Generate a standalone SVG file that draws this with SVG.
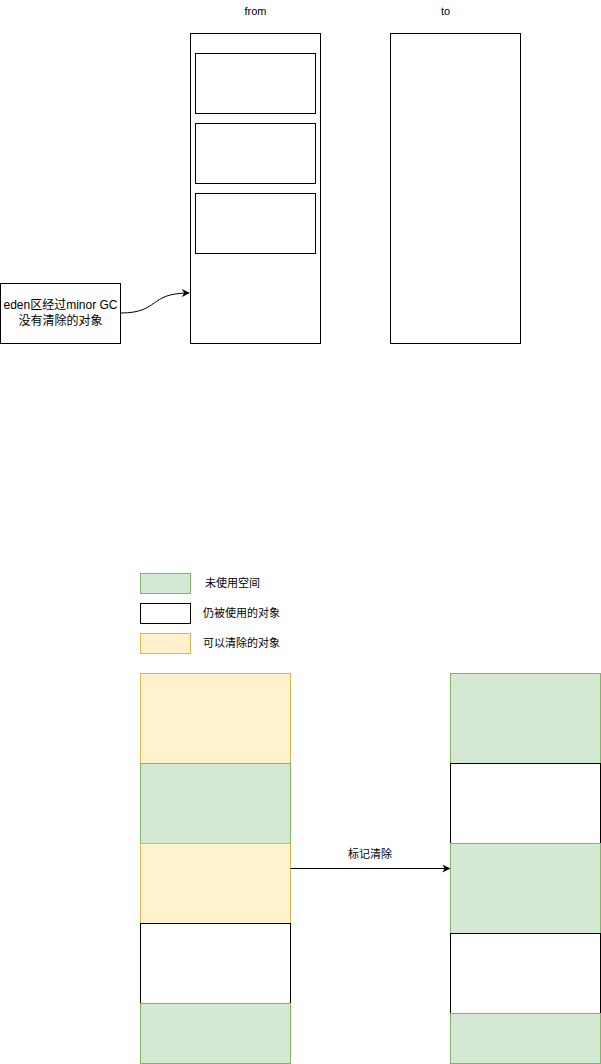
<svg xmlns="http://www.w3.org/2000/svg" width="601" height="1064" viewBox="0 0 601 1064">
<style>
text{font-family:"Liberation Sans","Noto Sans CJK SC",sans-serif;fill:#000}
.t11{font-size:11px}
.t12{font-size:12px}
.box{fill:#fff;stroke:#000;stroke-width:1}
.g{fill:#d5e8d4;stroke:#82b366;stroke-width:1}
.y{fill:#fff2cc;stroke:#d6b656;stroke-width:1}
.c{fill:none;stroke:#000;stroke-width:1}
</style>
<defs>
<marker id="ah" viewBox="0 0 10 10" refX="9" refY="5" markerWidth="8" markerHeight="8" markerUnits="userSpaceOnUse" orient="auto">
<path d="M0,0 L10,5 L0,10 L3,5 Z" fill="#000"/>
</marker>
</defs>
<rect width="601" height="1064" fill="#fff"/>
<g id="from">
<rect class="box" x="190.5" y="33.5" width="130" height="310"/>
<text class="t11" x="255.5" y="15" text-anchor="middle">from</text>
</g>
<g id="from-obj1"><rect class="box" x="195.5" y="53.5" width="120" height="60"/></g>
<g id="from-obj2"><rect class="box" x="195.5" y="123.5" width="120" height="60"/></g>
<g id="from-obj3"><rect class="box" x="195.5" y="193.5" width="120" height="60"/></g>
<g id="to">
<rect class="box" x="390.5" y="33.5" width="130" height="310"/>
<text class="t11" x="445.5" y="15" text-anchor="middle">to</text>
</g>
<g id="eden">
<rect class="box" x="0.5" y="283.5" width="120" height="60"/>
<text class="t12" x="60.5" y="309" text-anchor="middle">eden区经过minor GC</text>
<text class="t12" x="60.5" y="325" text-anchor="middle">没有清除的对象</text>
</g>
<g id="legend">
<rect class="g" x="140.5" y="573.5" width="50" height="20"/>
<text class="t11" x="205" y="587">未使用空间</text>
<rect class="box" x="140.5" y="603.5" width="50" height="20"/>
<text class="t11" x="203" y="617">仍被使用的对象</text>
<rect class="y" x="140.5" y="633.5" width="50" height="20"/>
<text class="t11" x="203" y="647">可以清除的对象</text>
</g>
<g id="left-column">
<rect class="y" x="140.5" y="673.5" width="150" height="90"/>
<rect class="g" x="140.5" y="763.5" width="150" height="80"/>
<rect class="y" x="140.5" y="843.5" width="150" height="80"/>
<rect class="box" x="140.5" y="923.5" width="150" height="80"/>
<rect class="g" x="140.5" y="1003.5" width="150" height="60"/>
</g>
<g id="right-column">
<rect class="g" x="450.5" y="673.5" width="150" height="90"/>
<rect class="box" x="450.5" y="763.5" width="150" height="80"/>
<rect class="g" x="450.5" y="843.5" width="150" height="90"/>
<rect class="box" x="450.5" y="933.5" width="150" height="80"/>
<rect class="g" x="450.5" y="1013.5" width="150" height="50"/>
</g>
<g id="connectors">
<path class="c" d="M120.5,313 C160,313 148,293 189,293" marker-end="url(#ah)"/>
<path class="c" d="M290.5,868.5 L449.5,868.5" marker-end="url(#ah)"/>
<text class="t11" x="370" y="858" text-anchor="middle">标记清除</text>
</g>
</svg>
